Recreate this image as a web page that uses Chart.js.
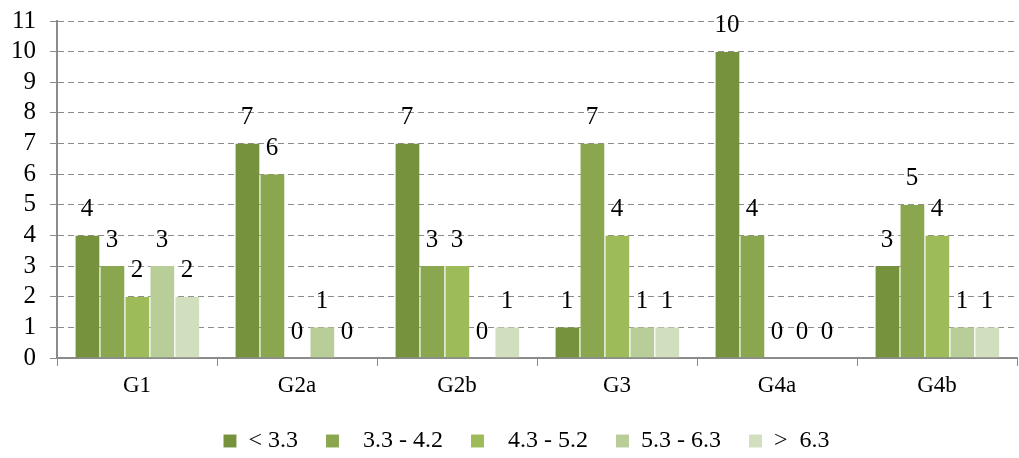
<!DOCTYPE html>
<html>
<head>
<meta charset="utf-8">
<script src="https://cdn.jsdelivr.net/npm/chart.js@4/dist/chart.umd.min.js"></script>
<style>
  html, body { margin: 0; padding: 0; background: #ffffff; }
  #wrap { width: 1019px; height: 458px; position: relative; }
</style>
</head>
<body>
<div id="wrap"><canvas id="c" width="1019" height="458"></canvas></div>
<script>
// Groups along the category axis
const categories = ['G1', 'G2a', 'G2b', 'G3', 'G4a', 'G4b'];

// Range classes (legend entries)
const seriesNames = ['< 3.3', '  3.3 - 4.2', '  4.3 - 5.2', '5.3 - 6.3', '>  6.3'];

// Counts per group for each range class
const below33  = [4, 7, 7, 1, 10, 3];
const r33to42  = [3, 6, 3, 7, 4, 5];
const r43to52  = [2, 0, 3, 4, 0, 4];
const r53to63  = [3, 1, 0, 1, 0, 1];
const above63  = [2, 0, 1, 1, 0, 1];

const yTicks = [0, 1, 2, 3, 4, 5, 6, 7, 8, 9, 10, 11];

const colors = ['#76923c', '#8aa64f', '#9dbb59', '#b9cd98', '#d2dfbf'];
const seriesValues = [below33, r33to42, r43to52, r53to63, above63];

const FONT = "'Liberation Serif', 'Times New Roman', serif";

// Writes each bar's count just above its top
const valueLabels = {
  id: 'valueLabels',
  afterDatasetsDraw(chart) {
    const ctx = chart.ctx;
    ctx.save();
    ctx.font = '25px ' + FONT;
    ctx.fillStyle = '#000000';
    ctx.textAlign = 'center';
    ctx.textBaseline = 'middle';
    chart.data.datasets.forEach((ds, i) => {
      const meta = chart.getDatasetMeta(i);
      meta.data.forEach((el, j) => {
        ctx.fillText(String(ds.data[j]), el.x, el.y - 26);
      });
    });
    ctx.restore();
  }
};

// Nudges the legend row slightly right and down
const legendOffset = {
  id: 'legendOffset',
  afterLayout(chart) {
    const lg = chart.legend;
    if (!lg) return;
    lg.left += 18; lg.right += 18;
    lg.top += 5; lg.bottom += 5;
  }
};

new Chart(document.getElementById('c'), {
  type: 'bar',
  data: {
    labels: categories,
    datasets: seriesValues.map((vals, i) => ({
      label: seriesNames[i],
      data: vals,
      backgroundColor: colors[i],
      borderColor: 'rgba(255,255,255,0.35)',
      borderWidth: { left: 1, right: 0, top: 0, bottom: 0 },
      borderSkipped: false,
      categoryPercentage: 0.78,
      barPercentage: 1.0
    }))
  },
  options: {
    responsive: false,
    animation: false,
    devicePixelRatio: 1,
    layout: { padding: { top: 21, right: 2, left: 0, bottom: 0 } },
    plugins: {
      tooltip: { enabled: false },
      legend: {
        position: 'bottom',
        labels: {
          font: { family: FONT, size: 24 },
          color: '#000000',
          boxWidth: 13,
          boxHeight: 13,
          padding: 28
        }
      }
    },
    scales: {
      x: {
        offset: true,
        grid: {
          offset: true,
          drawOnChartArea: false,
          color: '#8c8c8c',
          lineWidth: 1,
          tickLength: 8
        },
        border: { color: '#8c8c8c', width: 2 },
        ticks: {
          font: { family: FONT, size: 23 },
          color: '#000000',
          padding: 6
        },
        afterFit(scale) { scale.height = 38; }
      },
      y: {
        min: 0,
        max: 11,
        afterBuildTicks(scale) { scale.ticks = yTicks.map(v => ({ value: v })); },
        grid: {
          color: '#8c8c8c',
          lineWidth: 1,
          tickLength: 7,
          tickBorderDash: [],
          drawTicks: true
        },
        border: { color: '#8c8c8c', width: 2, dash: [6, 4] },
        ticks: {
          autoSkip: false,
          font: { family: FONT, size: 25 },
          color: '#000000',
          padding: 14
        },
        afterFit(scale) {
          scale.width = 57;
          scale.paddingTop = 0;
          scale.paddingBottom = 0;
        }
      }
    }
  },
  plugins: [valueLabels, legendOffset]
});
</script>
</body>
</html>
